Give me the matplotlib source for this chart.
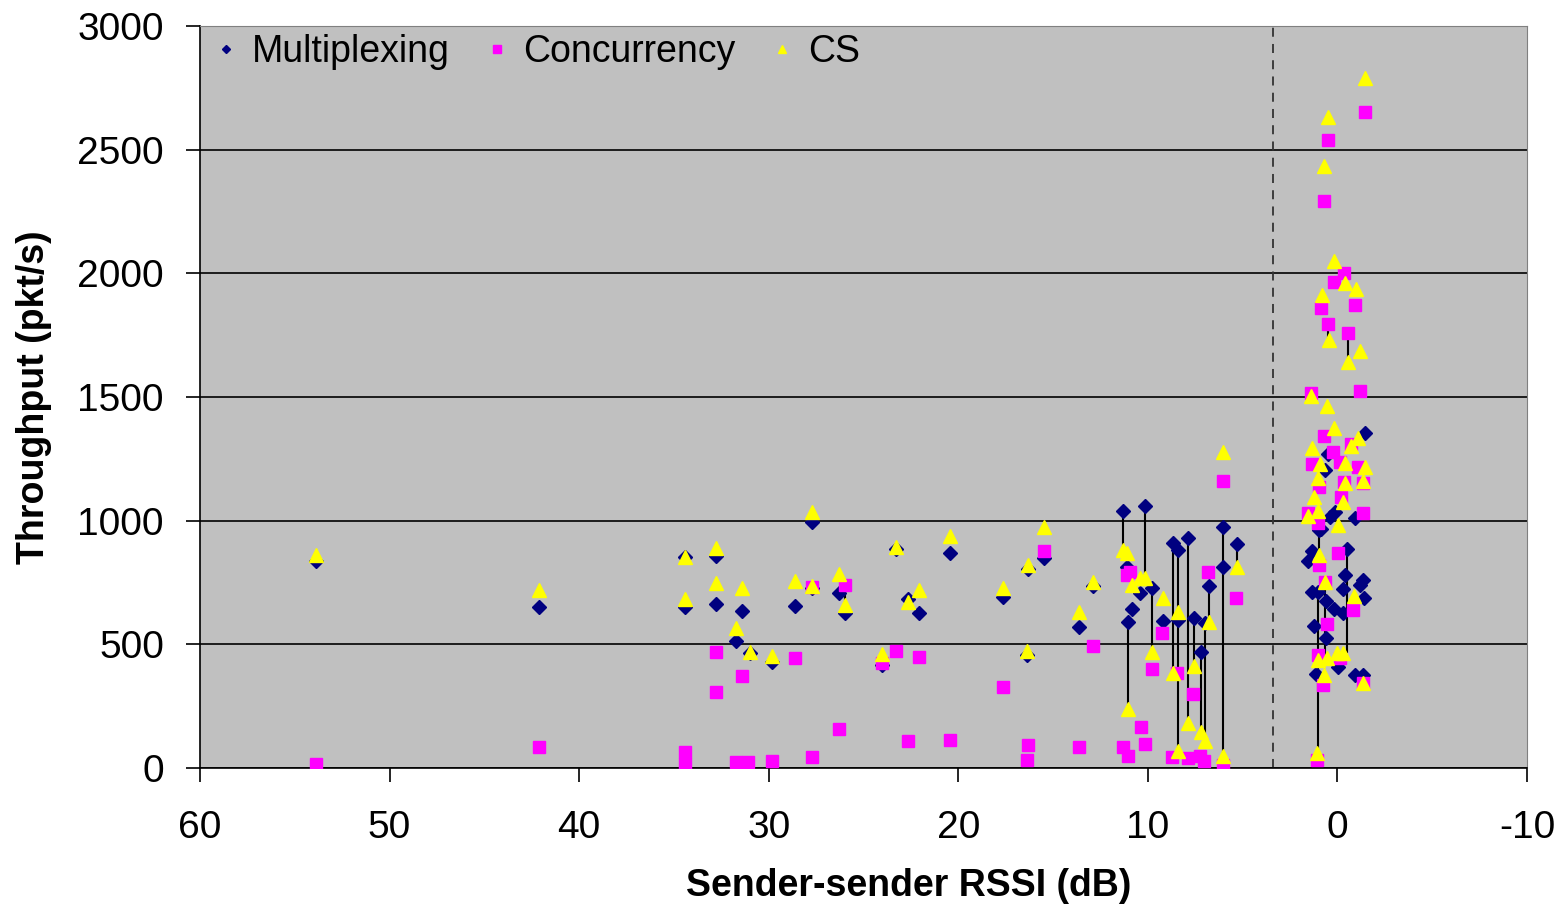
import matplotlib.pyplot as plt

# Sender-sender RSSI (dB) and throughput (pkt/s)
mux_x = [53.9, 42.1, 34.4, 34.4, 32.8, 32.8, 31.7, 31.4, 31.0, 29.8, 28.6, 27.7, 27.7,
         26.3, 26.0, 24.0, 23.3, 22.65, 22.07, 20.44, 17.64, 16.32, 16.4, 15.48, 13.63,
         12.89, 11.31, 11.10, 10.84, 10.41, 11.05, 10.15, 9.78, 9.20, 8.67, 8.41, 8.41,
         7.88, 7.57, 7.20, 6.98, 6.77, 6.04, 6.04, 5.30,
         -1.46, 0.50, 0.66, -0.93, 0.13, 0.39, 0.87, 1.34, 1.55, -0.51, -0.40, -1.35,
         -1.19, -0.30, -1.40, 1.34, 1.02, 0.60, 0.18, -0.30, 1.23, 0.60, -0.03, 1.13,
         -0.93, -1.35, 0.97]
mux_y = [838, 651, 853, 651, 857, 663, 513, 635, 465, 430, 655, 995, 728,
         708, 627, 415, 885, 682, 627, 869, 693, 805, 457, 849, 570,
         736, 1039, 813, 643, 708, 590, 1059, 728, 594, 909, 881, 598,
         930, 606, 469, 586, 736, 974, 813, 906,
         1354, 1270, 1205, 1011, 1035, 1015, 966, 877, 837, 885, 780, 760,
         740, 724, 687, 712, 712, 675, 643, 627, 574, 526, 408, 380,
         376, 376, 962]

conc_x = [53.9, 42.1, 34.4, 34.4, 32.8, 32.8, 31.7, 31.4, 31.1, 29.8, 28.6, 27.7, 27.7,
          26.3, 26.0, 24.0, 23.3, 22.65, 22.07, 20.44, 17.64, 16.32, 16.4, 15.48, 13.63,
          12.89, 11.31, 11.05, 10.94, 11.10, 10.36, 10.15, 9.78, 9.25, 8.73, 8.46, 7.88,
          7.62, 7.25, 7.04, 6.83, 6.04, 6.04, 5.35,
          -1.46, 0.50, 0.71, -0.35, 0.18, 0.87, -0.93, 0.50, -0.56, 1.39, -1.19, 0.71,
          -0.72, 0.23, -0.14, 1.34, -1.09, -0.35, -1.35, 0.97, -0.19, 1.55, -1.35, 1.02,
          0.97, -0.03, 0.66, -0.82, 0.55, 1.02, -0.14, 0.76, -1.35, 1.08]
conc_y = [15, 85, 65, 16, 469, 307, 24, 372, 24, 28, 445, 732, 44,
          158, 740, 424, 473, 109, 449, 113, 327, 93, 32, 877, 85,
          493, 86, 49, 792, 780, 166, 97, 400, 546, 45, 384, 40,
          299, 49, 28, 792, 1160, 12, 687,
          2652, 2539, 2292, 2001, 1965, 1860, 1872, 1795, 1759, 1516, 1524, 1342,
          1310, 1278, 1237, 1229, 1217, 1157, 1152, 1136, 1096, 1031, 1031, 991,
          821, 869, 752, 639, 582, 457, 445, 335, 344, 32]

cs_x = [53.9, 42.1, 34.4, 34.4, 32.8, 32.8, 31.7, 31.4, 31.0, 29.8, 28.6, 27.7, 27.7,
        26.3, 26.0, 24.0, 23.3, 22.65, 22.07, 20.44, 17.64, 16.32, 16.4, 15.48, 13.63,
        12.89, 11.31, 11.10, 11.05, 10.84, 10.41, 10.15, 9.78, 9.20, 8.67, 8.41, 8.41,
        7.88, 7.57, 7.20, 6.98, 6.77, 6.04, 6.04, 5.30,
        -1.46, 0.50, 0.71, 0.18, -0.40, -0.98, 0.81, 0.44, -0.56, -1.19, 1.39, 0.55,
        0.18, -1.09, -0.72, 1.34, -0.40, 0.92, -1.46, 1.02, -0.40, -1.35, 1.23, -0.30,
        1.02, 1.55, -0.03, 0.97, 0.66, -0.88, 1.02, 0.55, 0.02, -0.30, 0.71, -1.35, 1.08]
cs_y = [862, 720, 853, 683, 890, 748, 566, 728, 469, 453, 756, 1035, 735,
        784, 659, 461, 894, 671, 720, 938, 728, 821, 473, 974, 631,
        752, 881, 869, 238, 740, 768, 768, 469, 687, 384, 631, 69,
        182, 412, 146, 109, 590, 1277, 49, 813,
        2790, 2632, 2434, 2050, 1961, 1937, 1912, 1730, 1642, 1686, 1504, 1464,
        1375, 1334, 1300, 1294, 1233, 1229, 1217, 1172, 1152, 1160, 1096, 1076,
        1039, 1017, 982, 861, 752, 695, 437, 445, 465, 465, 376, 344, 61]

# vertical connector lines (x, top, bottom)
drop_x = [11.31, 11.05, 10.15, 9.78, 8.67, 8.41, 7.88, 7.57, 7.20, 6.98, 6.77, 6.04,
          5.30, 26.0, 0.50, -0.56, 1.02, 0.97, -0.51, 0.63]
drop_hi = [1039, 590, 1059, 728, 909, 881, 930, 606, 469, 586, 736, 974,
           906, 740, 1795, 1759, 712, 962, 869, 752]
drop_lo = [881, 238, 768, 469, 384, 69, 182, 412, 146, 109, 590, 49,
           813, 659, 1730, 1642, 61, 861, 465, 445]

split_x = 3.4

plt.rcParams['font.family'] = ['Liberation Sans', 'DejaVu Sans']
plt.rcParams['axes.unicode_minus'] = False

fig, ax = plt.subplots(figsize=(15.66, 9.06), dpi=100)
fig.subplots_adjust(left=0.1277, right=0.9751, top=0.9713, bottom=0.1523)
ax.set_facecolor('#C0C0C0')

ax.vlines(drop_x, drop_lo, drop_hi, color='black', lw=1.5, zorder=2)
ax.axvline(split_x, color='#333333', lw=1.3, ls=(0, (5, 4)), zorder=2)

ax.plot(mux_x, mux_y, ls='none', marker='D', ms=7, color='#000080',
        mec='#000080', label='Multiplexing', zorder=3)
ax.plot(conc_x, conc_y, ls='none', marker='s', ms=9, color='#FF00FF',
        mec='#FF00FF', label='Concurrency', zorder=4)
ax.plot(cs_x, cs_y, ls='none', marker='^', ms=10, color='#FFFF00',
        mec='#FFFF00', label='CS', zorder=5)

ax.set_xlim(60, -10)
ax.set_ylim(0, 3000)
ax.set_xticks(range(60, -11, -10))
ax.set_yticks(range(0, 3001, 500))
ax.yaxis.grid(True, color='black', lw=1.2)
ax.set_axisbelow(True)

ax.tick_params(axis='both', labelsize=28, length=10, width=1.2, direction='out')
ax.tick_params(axis='x', pad=20)
ax.tick_params(axis='y', pad=16)
for s in ['top', 'right']:
    ax.spines[s].set_color('#808080')
for s in ['left', 'bottom']:
    ax.spines[s].set_color('black')
    ax.spines[s].set_linewidth(1.2)

ax.set_xlabel('Sender-sender RSSI (dB)', fontsize=27, fontweight='bold')
ax.xaxis.set_label_coords(0.534, -0.135)
ax.set_ylabel('Throughput (pkt/s)', fontsize=27, fontweight='bold', labelpad=18)

ax.legend(loc='upper left', ncol=3, frameon=False, fontsize=27, markerscale=0.6,
          handlelength=0.6, handletextpad=0.4, columnspacing=0.95,
          borderaxespad=0.2, bbox_to_anchor=(-0.006, 1.02))

fig.savefig('out.png', dpi=100)
